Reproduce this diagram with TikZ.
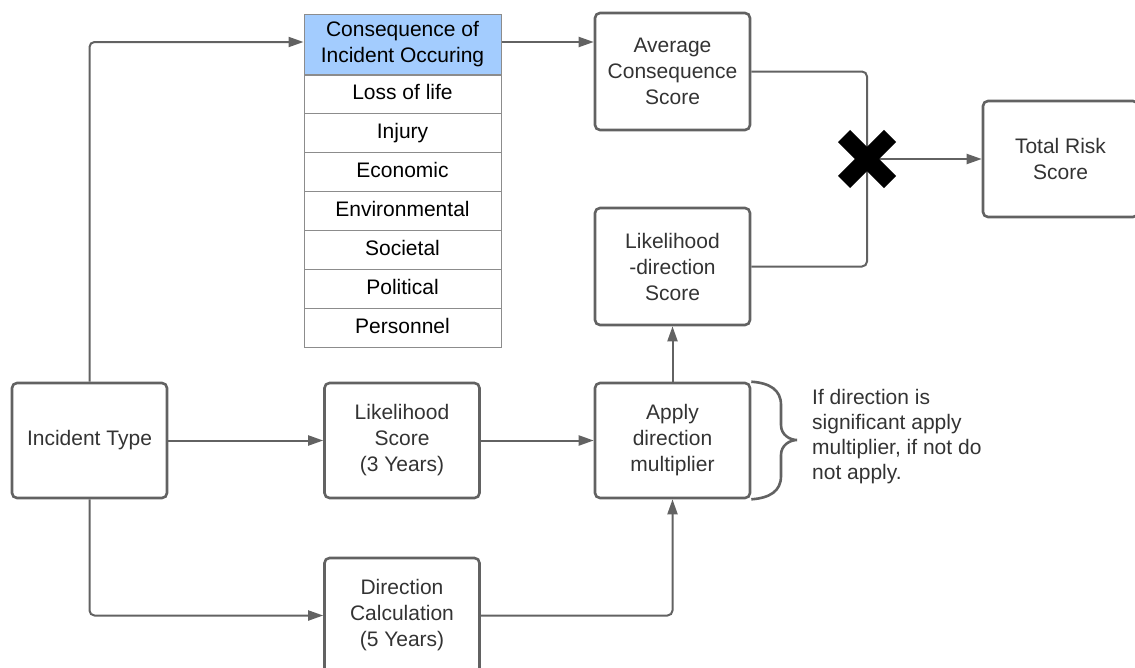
\documentclass[tikz,border=0pt]{standalone}
\usepackage{fontspec}
\setmainfont{Liberation Sans}
\usetikzlibrary{arrows.meta}
\definecolor{edge}{HTML}{626262}
\definecolor{txt}{HTML}{333333}
\definecolor{hdr}{HTML}{A3CCFE}
\definecolor{tbl}{HTML}{8C8C8C}
\newcommand\dfont{\fontsize{21}{26}\selectfont}
\begin{document}
\begin{tikzpicture}[x=1pt,y=-1pt,
 box/.style={draw=edge, line width=2.6pt, rounded corners=5pt, minimum width=155pt, minimum height=115pt, align=center, text=txt, font=\dfont, inner sep=0pt},
 cell/.style={draw=tbl, line width=1pt, minimum width=197pt, minimum height=39pt, font=\dfont, text=black, inner sep=0pt, align=center},
 rowcell/.style={cell, text height=15pt, text depth=4pt},
 conn/.style={draw=edge, line width=2pt, rounded corners=5pt},
 arr/.style={conn, -{Triangle[length=15pt,width=10pt]}}]
\useasboundingbox (0,0) rectangle (1135,667);
\clip (0,0) rectangle (1135,667);

% table
\node[cell, fill=hdr, minimum height=61pt] (hdr) at (402.5,44.5) {Consequence of\\Incident Occuring};
\node[rowcell] (r1) at (402.5,94) {Loss of life};
\node[rowcell] (r2) at (402.5,132.5) {Injury};
\node[rowcell] (r3) at (402.5,171.5) {Economic};
\node[rowcell] (r4) at (402.5,210.5) {Environmental};
\node[rowcell] (r5) at (402.5,249.5) {Societal};
\node[rowcell] (r6) at (402.5,288.5) {Political};
\node[rowcell] (r7) at (402.5,327.5) {Personnel};

% boxes
\node[box] (inc) at (89.5,440.5) {Incident Type};
\node[box] (lik) at (402,440.5) {Likelihood\\Score\\(3 Years)};
\node[box] (app) at (672.5,440.5) {Apply\\direction\\multiplier};
\node[box] (dir) at (402,615.5) {Direction\\Calculation\\(5 Years)};
\node[box, minimum height=117pt] (avg) at (672.5,71.5) {Average\\Consequence\\Score};
\node[box, minimum height=117pt] (ld) at (672.5,266.5) {Likelihood\\-direction\\Score};
\node[box, minimum height=116pt] (tot) at (1060.5,159) {Total Risk\\Score};
\coordinate (xm) at (867,159);

% connectors
\draw[arr] (inc.north) |- ([yshift=2.5pt]hdr.west);
\draw[arr] ([yshift=2.5pt]hdr.east) -- ([yshift=2.5pt]hdr.east -| avg.west);
\draw[conn] (avg.east) -| (xm);
\draw[conn] (ld.east) -| (xm);
\draw[arr] (xm) -- (tot.west);
\draw[arr] (inc.east) -- (lik.west);
\draw[arr] (lik.east) -- (app.west);
\draw[arr] (app.north) -- (ld.south);
\draw[arr] (inc.south) |- (dir.west);
\draw[arr] (dir.east) -| (app.south);

% multiply mark
\draw[black, line width=17pt] ([shift={(-23,-23)}]xm) -- ([shift={(23,23)}]xm);
\draw[black, line width=17pt] ([shift={(-23,23)}]xm) -- ([shift={(23,-23)}]xm);

% brace
\draw[edge, line width=2.6pt] (app.north east) .. controls (770,383) and (781,390) .. (781,405) -- (781,425) .. controls (781,435) and (790,440) .. (797,440) .. controls (790,440) and (781,445) .. (781,455) -- (781,476) .. controls (781,491) and (770,498) .. (app.south east);
\node[anchor=west, align=left, text=txt, font=\fontsize{21}{25}\selectfont, inner sep=0pt] (note) at (812,437) {If direction is\\significant apply\\multiplier, if not do\\not apply.};
\end{tikzpicture}
\end{document}
